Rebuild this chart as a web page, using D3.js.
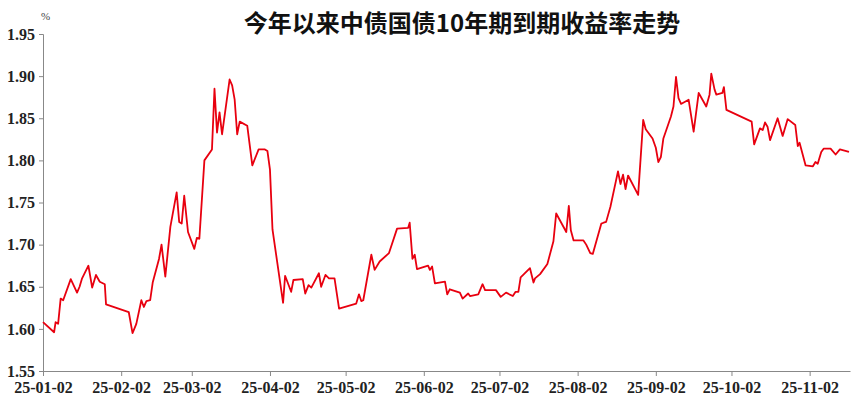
<!DOCTYPE html>
<html><head><meta charset="utf-8">
<script src="https://cdn.jsdelivr.net/npm/d3@7"></script>
<style>body{margin:0;background:#fff}</style></head>
<body><svg id="c" width="865" height="406"></svg>
<script>
// days after 2025-01-02, and the 10y yield (%)
const dayOffsets = [0,4.4,5,6,7,8,11,13.5,14.5,15.5,18,19.5,21,22.5,24.5,25,34,35.5,37,39,40,41,42.5,43.5,46,47,48.5,50.5,53,54,55,56,57.5,60,61,62,64,67,68,69,70,71,74,75,76,77,78,81,83,85.5,88,89,90,91,95.2,96,98.4,99.3,103,104,105.3,106.4,109.4,110.3,112,113.4,115.6,117.4,124.2,125.3,126.2,127,130.2,131.5,133.5,137.2,140.4,144.8,145.4,146.5,147.4,148.3,152.7,153.4,154.3,155.4,159.4,160.3,161.3,165.3,166.4,168.6,169.3,172.6,174.3,175.3,179.6,181.5,183.6,186.3,187.4,188.5,189.4,193.1,194.5,195.1,197.1,200,202.4,203.5,207.5,208.5,209.3,210.4,214.3,215.4,217,218,221.4,222.3,223.3,225,228,229,230,231,232,236,238,239,241.7,243,244,245,246,249,250,251,252,253,256,258,260,263,264.3,265,266.3,267,269.4,270,271,281,282,284.3,285.4,286.3,287.3,288.3,291.3,293.3,295.3,298.3,299.3,300,302.4,305.3,306.3,307.2,308.6,309.6,312.3,314.3,316,319.6];
const yields = [1.608,1.596,1.608,1.606,1.636,1.634,1.659,1.643,1.650,1.660,1.675,1.649,1.664,1.656,1.653,1.629,1.620,1.595,1.606,1.634,1.626,1.633,1.634,1.655,1.683,1.700,1.662,1.721,1.762,1.727,1.725,1.758,1.715,1.695,1.708,1.707,1.800,1.813,1.885,1.833,1.857,1.831,1.896,1.889,1.872,1.831,1.846,1.841,1.794,1.813,1.813,1.811,1.789,1.718,1.631,1.663,1.644,1.658,1.659,1.642,1.652,1.649,1.666,1.650,1.664,1.660,1.660,1.624,1.630,1.641,1.633,1.634,1.688,1.670,1.680,1.690,1.719,1.720,1.726,1.683,1.688,1.671,1.675,1.670,1.674,1.654,1.656,1.641,1.647,1.643,1.636,1.642,1.639,1.641,1.653,1.646,1.646,1.638,1.643,1.639,1.644,1.644,1.661,1.672,1.655,1.660,1.665,1.677,1.704,1.737,1.715,1.746,1.717,1.705,1.705,1.700,1.690,1.689,1.725,1.726,1.727,1.745,1.787,1.772,1.783,1.766,1.782,1.759,1.848,1.837,1.826,1.815,1.798,1.804,1.826,1.852,1.864,1.899,1.874,1.867,1.872,1.834,1.880,1.864,1.878,1.903,1.884,1.878,1.880,1.887,1.860,1.846,1.819,1.838,1.836,1.845,1.840,1.824,1.850,1.829,1.849,1.842,1.817,1.821,1.794,1.793,1.798,1.796,1.810,1.814,1.814,1.807,1.813,1.810];
const yTicks = [1.55,1.60,1.65,1.70,1.75,1.80,1.85,1.90,1.95];
const xTickLabels = ["25-01-02","25-02-02","25-03-02","25-04-02","25-05-02","25-06-02","25-07-02","25-08-02","25-09-02","25-10-02","25-11-02"];

const start = new Date(2025, 0, 2);
const parse = d3.timeParse("%y-%m-%d");
const data = dayOffsets.map((d, i) => ({ date: new Date(+start + d * 864e5), v: yields[i] }));

const svg = d3.select("#c");
const x = d3.scaleTime().domain([start, new Date(2025, 10, 18)]).range([43, 850]);
const y = d3.scaleLinear().domain([1.55, 1.95]).range([371, 34]);

const serif = "'Liberation Serif', 'Times New Roman', 'DejaVu Serif', serif";

svg.append("g").attr("transform", "translate(43,0)")
  .call(d3.axisLeft(y).tickValues(yTicks).tickFormat(d3.format(".2f")).tickSize(4))
  .call(g => g.select(".domain").attr("stroke", "#888"))
  .call(g => g.selectAll("line").attr("stroke", "#888"))
  .call(g => g.selectAll("text").style("font-family", serif).style("font-weight", "bold").style("font-size", "16px").attr("fill", "#222").attr("dx", -1));

svg.append("g").attr("transform", "translate(0,371)")
  .call(d3.axisBottom(x).tickValues(xTickLabels.map(parse)).tickFormat(d3.timeFormat("%y-%m-%d")).tickSize(5).tickSizeOuter(0))
  .call(g => g.select(".domain").attr("stroke", "#888"))
  .call(g => g.selectAll("line").attr("stroke", "#888"))
  .call(g => g.selectAll("text").style("font-family", serif).style("font-weight", "bold").style("font-size", "16px").attr("fill", "#222").attr("dy", "0.85em"));

svg.append("path").datum(data)
  .attr("fill", "none").attr("stroke", "#e8000f").attr("stroke-width", 1.8)
  .attr("stroke-linejoin", "round")
  .attr("d", d3.line().x(d => x(d.date)).y(d => y(d.v)));

svg.append("text").attr("x", 41).attr("y", 20).style("font-family", serif)
  .style("font-size", "11px").attr("fill", "#444").text("%");

svg.append("text").attr("x", 462).attr("y", 32).attr("text-anchor", "middle")
  .style("font-family", "'Noto Sans CJK SC', sans-serif").style("font-weight", "bold")
  .style("font-size", "24px").attr("fill", "#111").text("今年以来中债国债10年期到期收益率走势");
</script></body></html>
